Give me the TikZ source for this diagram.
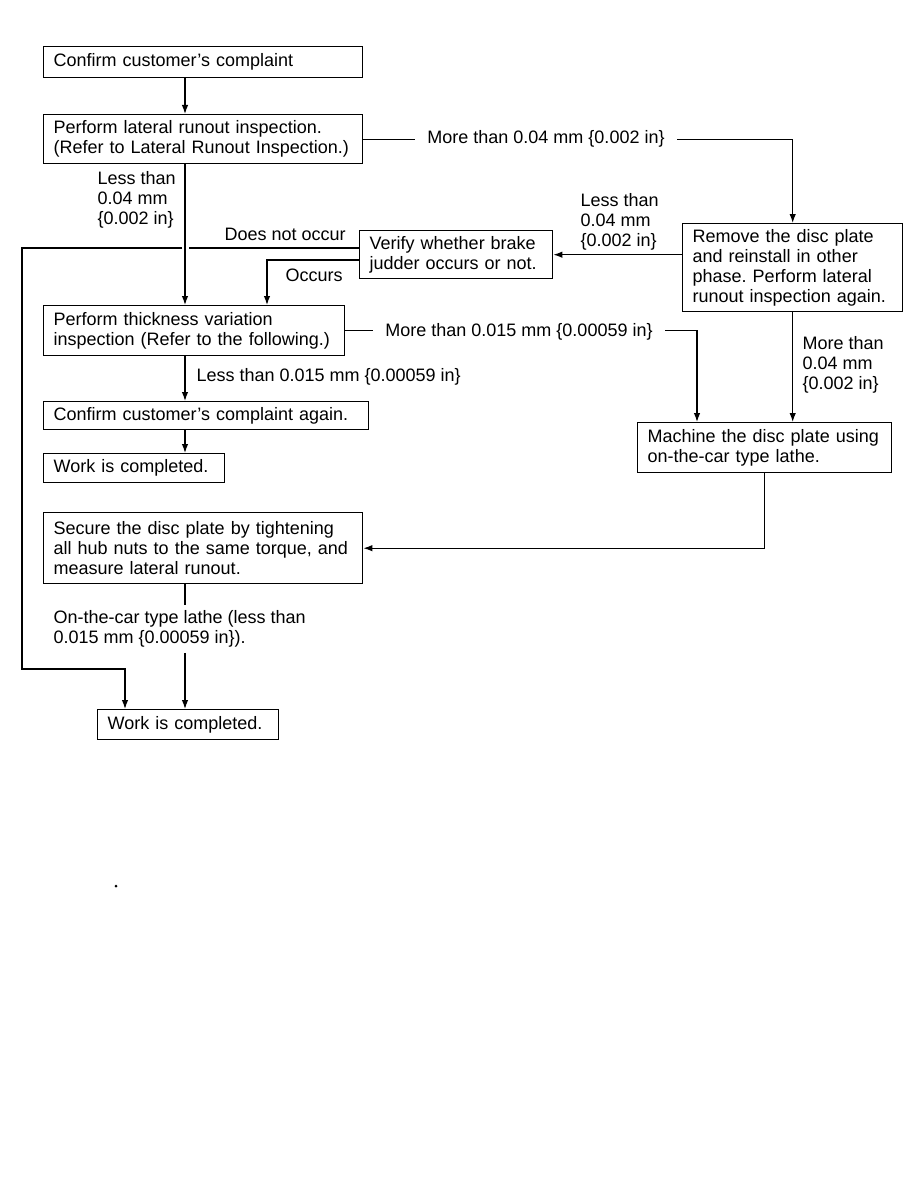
\documentclass[tikz,border=0pt]{standalone}
\usepackage{fontspec}
\setmainfont{Liberation Sans}
\usepackage{tikz}
\usetikzlibrary{arrows.meta,positioning}
\frenchspacing

\begin{document}
\begin{tikzpicture}[x=1pt, y=-1pt, >={Latex[length=9pt,width=6.5pt]}, line width=1.2pt,
  every node/.style={font=\fontsize{18}{20}\selectfont, align=left},
  box/.style={draw, line width=1.4pt, anchor=north west, inner xsep=10pt, inner ysep=0pt},
  lbl/.style={anchor=north west, inner sep=0pt}]
  \useasboundingbox (0,0) rectangle (918,1188);
  \coordinate (col) at (185,0);
  \coordinate (col2) at (125,0);
  \coordinate (mcol) at (697,0);
  \coordinate (lp) at (22,248);
  \coordinate (bl) at (22,669);
  \coordinate (oc) at (267,260);

  \node[box, text width=299pt, minimum height=31pt] (conf) at (43,46) {Confirm customer’s complaint};
  \node[box, text width=299pt, minimum height=49pt] (lat) at (43,114) {Perform lateral runout inspection.\\(Refer to Lateral Runout Inspection.)};
  \node[box, text width=281pt, minimum height=50pt] (thick) at (43,305) {Perform thickness variation\\inspection (Refer to the following.)};
  \node[box, text width=305pt, minimum height=28pt] (again) at (43,401) {Confirm customer’s complaint again.};
  \node[box, text width=161pt, minimum height=29pt] (done1) at (43,453) {Work is completed.};
  \node[box, text width=299pt, minimum height=71pt] (secure) at (43,512) {Secure the disc plate by tightening\\all hub nuts to the same torque, and\\measure lateral runout.};
  \node[box, text width=161pt, minimum height=30pt] (done2) at (97,709) {Work is completed.};
  \node[box, text width=173pt, minimum height=48pt] (verify) at (359,230) {Verify whether brake\\judder occurs or not.};
  \node[box, text width=200pt, minimum height=88pt] (remove) at (682,223) {Remove the disc plate\\and reinstall in other\\phase. Perform lateral\\runout inspection again.};
  \node[box, text width=234pt, minimum height=50pt] (machine) at (637,422) {Machine the disc plate using\\on-the-car type lathe.};

  \node[lbl] (lt04) at (97,171) {Less than\\0.04 mm\\\{0.002 in\}};
  \node[lbl] (lt04b) at (580,193) {Less than\\0.04 mm\\\{0.002 in\}};
  \node[lbl] (gt04b) at (802,336) {More than\\0.04 mm\\\{0.002 in\}};
  \node[anchor=base west, inner sep=0pt] (nocc) at (224,240.5) {Does not occur};
  \node[anchor=base west, inner sep=0pt] (occ) at (285,281) {Occurs};
  \node[anchor=base west, inner sep=0pt] (lt015) at (196,381) {Less than 0.015 mm \{0.00059 in\}};
  \node[inner xsep=12pt, inner ysep=0pt] (gt04) at (546,139) {More than 0.04 mm \{0.002 in\}};
  \node[inner xsep=12pt, inner ysep=0pt] (gt015) at (519,332) {More than 0.015 mm \{0.00059 in\}};
  \node[anchor=north west, inner xsep=0pt, inner ysep=5pt] (lathe) at (53,605) {On-the-car type lathe (less than\\0.015 mm \{0.00059 in\}).};

  \draw[->] (conf.south -| col) -- (lat.north -| col);
  \draw[->] (lat.south -| col) -- (thick.north -| col);
  \draw (lat.east) -- (lat.east -| gt04.west);
  \draw[->] (gt04.east |- lat.east) -| (remove.north);
  \draw[->] (remove.west |- verify.east) -- (verify.east);
  \draw[->] (remove.south) -- (remove.south |- machine.north);
  \draw (verify.west |- lp) -- ([xshift=4pt]lp -| col);
  \draw[->] ([xshift=-3pt]lp -| col) -- (lp) -- (bl) -| (done2.north -| col2);
  \draw[->] (verify.west |- oc) -| (thick.north -| oc);
  \draw (thick.east) -- (thick.east -| gt015.west);
  \draw[->] (gt015.east |- thick.east) -| (machine.north -| mcol);
  \draw[->] (thick.south -| col) -- (again.north -| col);
  \draw[->] (again.south -| col) -- (done1.north -| col);
  \draw[->] (machine.south) |- (secure.east);
  \draw (secure.south -| col) -- (lathe.north -| col);
  \draw[->] (lathe.south -| col) -- (done2.north -| col);
  \fill (116,886) circle (1.5pt);
\end{tikzpicture}
\end{document}
